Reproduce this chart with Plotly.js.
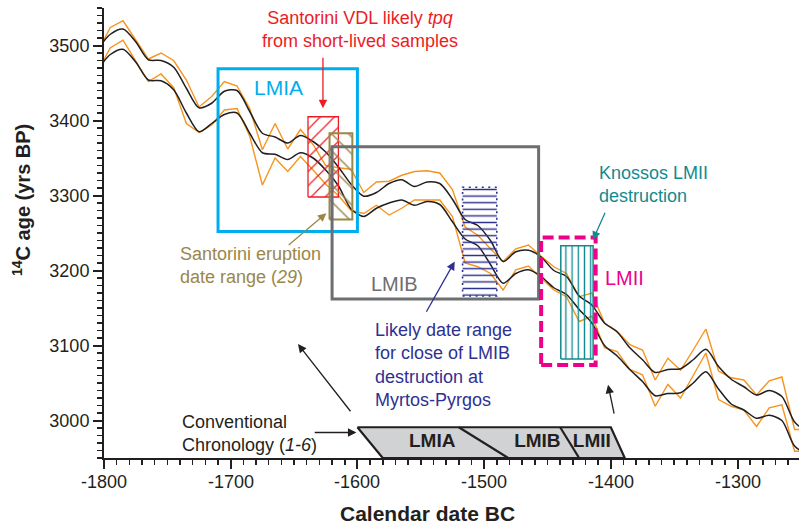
<!DOCTYPE html>
<html><head><meta charset="utf-8">
<script src="https://cdn.plot.ly/plotly-3.0.1.min.js"></script>
<style>html,body{margin:0;padding:0;background:#fff}#chart{width:799px;height:526px}</style>
</head><body><div id="chart"></div>
<script>
// ---- data (calendar year BC as negative, 14C age BP) ----
const years = [-1805,-1795,-1785,-1775,-1765,-1755,-1745,-1735,-1725,-1715,
  -1705,-1695,-1685,-1675,-1665,-1655,-1645,-1635,-1625,-1615,
  -1605,-1595,-1585,-1575,-1565,-1555,-1545,-1535,-1525,-1515,
  -1505,-1495,-1485,-1475,-1465,-1455,-1445,-1435,-1425,-1415,
  -1405,-1395,-1385,-1375,-1365,-1355,-1345,-1335,-1325,-1315,
  -1305,-1295,-1285,-1275,-1265,-1255,-1245];
const orangeUpper = [3492,3524,3533,3508,3482,3490,3480,3454,3418,3432,
  3452,3446,3416,3361,3396,3362,3388,3368,3340,3337,
  3335,3304,3318,3319,3327,3332,3333,3330,3308,3258,
  3247,3229,3212,3229,3234,3219,3205,3196,3165,3170,
  3130,3119,3101,3094,3054,3083,3067,3094,3122,3066,
  3057,3054,3034,3053,3058,2988,2988];
const orangeLower = [3466,3497,3507,3480,3452,3462,3444,3396,3384,3394,
  3414,3416,3379,3314,3350,3332,3352,3334,3315,3300,
  3280,3276,3287,3274,3283,3294,3294,3294,3272,3210,
  3205,3196,3174,3201,3206,3190,3174,3165,3132,3139,
  3097,3092,3068,3061,3019,3048,3030,3060,3090,3028,
  3019,3014,2992,3017,3021,2959,2959];
const blackUpper = [3495,3515,3522,3505,3481,3480,3471,3443,3417,3423,
  3439,3440,3412,3383,3378,3370,3380,3372,3358,3338,
  3315,3299,3304,3316,3321,3312,3318,3316,3295,3268,
  3260,3240,3212,3225,3227,3218,3200,3192,3166,3154,
  3130,3118,3097,3081,3064,3068,3069,3081,3095,3072,
  3055,3045,3034,3040,3032,2998,2985];
const blackLower = [3468,3488,3495,3478,3454,3453,3441,3410,3385,3396,
  3408,3410,3383,3357,3355,3348,3357,3350,3334,3313,
  3282,3272,3283,3290,3294,3287,3292,3288,3265,3242,
  3233,3208,3183,3196,3201,3192,3177,3168,3148,3130,
  3100,3086,3068,3052,3033,3036,3037,3050,3065,3042,
  3022,3014,3003,3007,3000,2966,2955];

// axis ticks
const xTickVals = [-1800, -1700, -1600, -1500, -1400, -1300];
const xTickText = ['-1800', '-1700', '-1600', '-1500', '-1400', '-1300'];
const yTickVals = [3000, 3100, 3200, 3300, 3400, 3500];
const yTickText = ['3000', '3100', '3200', '3300', '3400', '3500'];

// date ranges [start, end] and 14C extents [low, high]
const lmiaBoxX = [-1710, -1600], lmiaBoxY = [3252, 3469];
const lmibBoxX = [-1620, -1457], lmibBoxY = [3162, 3365];
const lmiiBoxX = [-1455, -1412], lmiiBoxY = [3074, 3244];
const vdlRangeX = [-1639, -1615], vdlRangeY = [3298, 3405];
const eruptionRangeX = [-1622, -1604], eruptionRangeY = [3268, 3383];
const myrtosRangeX = [-1517, -1490], myrtosRangeY = [3166, 3311];
const knossosRangeX = [-1439.5, -1414], knossosRangeY = [3082, 3233];
// conventional chronology: phase boundaries (top edge, bottom edge)
const chronoTop = [-1600, -1520, -1440, -1400];
const chronoBottom = [-1580, -1481, -1425, -1389];
const chronoY = [2950, 2991];
const chronoLabels = ['LMIA', 'LMIB', 'LMII'];
const chronoLabelX = [-1541, -1458, -1415];

const FONT = 'Liberation Sans, Arial, Helvetica, sans-serif';
const ORANGE = '#F7941D', RED = '#ED1C24', CYAN = '#00AEEF', GRAY = '#6D6E71',
      OLIVE = '#9A8748', NAVY = '#2E3192', TEAL = '#138A8F', MAGENTA = '#EC008C', INK = '#231F20';

function boxTrace(xr, yr, color, pattern, size, solidity, lw, dash) {
  return {
    x: [xr[0], xr[1], xr[1], xr[0], xr[0]],
    y: [yr[0], yr[0], yr[1], yr[1], yr[0]],
    mode: 'lines', fill: 'toself', fillcolor: 'rgba(0,0,0,0)',
    fillpattern: {shape: pattern, fgcolor: color, bgcolor: 'rgba(0,0,0,0)', size: size, solidity: solidity},
    line: {color: color, width: lw, dash: dash || 'solid'},
    hoverinfo: 'skip', showlegend: false
  };
}

const traces = [
  {x: years, y: orangeUpper, mode: 'lines', line: {color: ORANGE, width: 1.4}, showlegend: false},
  {x: years, y: orangeLower, mode: 'lines', line: {color: ORANGE, width: 1.4}, showlegend: false},
  {x: years, y: blackUpper, mode: 'lines', line: {color: INK, width: 1.5, shape: 'spline', smoothing: 0.8}, showlegend: false},
  {x: years, y: blackLower, mode: 'lines', line: {color: INK, width: 1.5, shape: 'spline', smoothing: 0.8}, showlegend: false},
  boxTrace(vdlRangeX, vdlRangeY, RED, '/', 10, 0.12, 1.3),
  boxTrace(eruptionRangeX, eruptionRangeY, OLIVE, '\\', 12, 0.12, 2),
  boxTrace(myrtosRangeX, myrtosRangeY, NAVY, '-', 6.6, 0.22, 1.6, '2px,4.5px'),
  boxTrace(knossosRangeX, knossosRangeY, TEAL, '|', 6.2, 0.22, 1.5),
  // chronology bar
  {x: [chronoTop[0], chronoTop[3], chronoBottom[3], chronoBottom[0], chronoTop[0]],
   y: [chronoY[1], chronoY[1], chronoY[0], chronoY[0], chronoY[1]],
   mode: 'lines', fill: 'toself', fillcolor: '#D1D2D4', line: {color: INK, width: 2.2},
   hoverinfo: 'skip', showlegend: false},
  {x: [chronoTop[1], chronoBottom[1], null, chronoTop[2], chronoBottom[2]],
   y: [chronoY[1], chronoY[0], null, chronoY[1], chronoY[0]],
   mode: 'lines', line: {color: INK, width: 2.2}, hoverinfo: 'skip', showlegend: false},
  {x: chronoLabelX, y: [2971.5, 2971.5, 2971.5], mode: 'text', text: chronoLabels.map(s => '<b>' + s + '</b>'),
   textfont: {family: FONT, size: 19, color: INK}, hoverinfo: 'skip', showlegend: false}
];

function arrow(x, y, ax, ay, color) {
  return {x: x, y: y, ax: ax, ay: ay, xref: 'x', yref: 'y', axref: 'x', ayref: 'y', text: ' ',
    showarrow: true, arrowhead: 2, arrowsize: 1.3, arrowwidth: 1.3, arrowcolor: color, standoff: 0,
    font: {size: 2}};
}
function label(x, y, text, color, size, xanchor, extra) {
  return Object.assign({x: x, y: y, xref: 'x', yref: 'y', text: text, showarrow: false,
    font: {family: FONT, size: size, color: color}, xanchor: xanchor || 'center', yanchor: 'middle', align: 'left'}, extra || {});
}

const annotations = [
  label(-1598, 3521, 'Santorini VDL likely <i>tpq</i><br>from short-lived samples', RED, 18, 'center', {align: 'center'}),
  arrow(-1627.2, 3416.5, -1627.2, 3487.6, RED),
  label(-1662, 3443.6, 'LMIA', CYAN, 21),
  label(-1570.6, 3182.3, 'LMIB', GRAY, 20),
  label(-1389.4, 3190.3, 'LMII', MAGENTA, 20),
  label(-1410.6, 3315, 'Knossos LMII<br>destruction', TEAL, 18, 'left'),
  arrow(-1414.1, 3240.9, -1403.5, 3281, TEAL),
  label(-1741.6, 3206.3, 'Santorini eruption<br>date range (<i>29</i>)', OLIVE, 18, 'left'),
  arrow(-1624.5, 3276.5, -1655.8, 3231.6, OLIVE),
  label(-1587.9, 3073.6, 'Likely date range<br>for close of LMIB<br>destruction at<br>Myrtos-Pyrgos', NAVY, 18, 'left'),
  arrow(-1523.2, 3212, -1546.9, 3141, NAVY),
  label(-1740.2, 2982.6, 'Conventional<br>Chronology (<i>1-6</i>)', INK, 18, 'left'),
  arrow(-1600.8, 2984, -1635.3, 2984, INK),
  arrow(-1646.9, 3101.9, -1603.9, 3008.9, INK),
  arrow(-1402.2, 3047.6, -1396.9, 3005.3, INK),
  {x: -0.1194, y: 0.5733, xref: 'paper', yref: 'paper', text: '<b><sup>14</sup>C age (yrs BP)</b>', textangle: -90,
   showarrow: false, font: {family: FONT, size: 20, color: INK}, xanchor: 'center', yanchor: 'middle'},
  {x: 0.4655, y: -0.1244, xref: 'paper', yref: 'paper', text: '<b>Calendar date BC</b>',
   showarrow: false, font: {family: FONT, size: 21, color: INK}, xanchor: 'center', yanchor: 'middle'}
];
// x tick labels placed as annotations (plain hyphen minus, closer to the axis)
xTickVals.forEach((v, i) => annotations.push({x: v, y: -0.0544, xref: 'x', yref: 'paper', text: xTickText[i],
  showarrow: false, font: {family: FONT, size: 18, color: INK}, xanchor: 'center', yanchor: 'middle'}));

const shapes = [
  {type: 'rect', xref: 'x', yref: 'y', x0: lmiaBoxX[0], x1: lmiaBoxX[1], y0: lmiaBoxY[0], y1: lmiaBoxY[1],
   line: {color: CYAN, width: 3}, layer: 'above'},
  {type: 'rect', xref: 'x', yref: 'y', x0: lmibBoxX[0], x1: lmibBoxX[1], y0: lmibBoxY[0], y1: lmibBoxY[1],
   line: {color: GRAY, width: 3}, layer: 'above'},
  {type: 'rect', xref: 'x', yref: 'y', x0: lmiiBoxX[0], x1: lmiiBoxX[1], y0: lmiiBoxY[0], y1: lmiiBoxY[1],
   line: {color: MAGENTA, width: 4, dash: '11px,5px'}, layer: 'above'}
];

const axisCommon = {
  showgrid: false, zeroline: false, showline: true, linecolor: INK, linewidth: 2,
  ticks: 'outside', tickcolor: INK, tickwidth: 2, tickfont: {family: FONT, size: 18, color: INK},
  minor: {ticks: 'outside', ticklen: 5, tickwidth: 1.5, tickcolor: INK, dtick: 10, showgrid: false}
};

const layout = {
  width: 799, height: 526, margin: {l: 104, r: 0, t: 8, b: 68},
  paper_bgcolor: '#fff', plot_bgcolor: '#fff', showlegend: false,
  xaxis: Object.assign({}, axisCommon, {range: [-1800, -1251.5], tickmode: 'array', tickvals: xTickVals,
    showticklabels: false, ticklen: 9}),
  yaxis: Object.assign({}, axisCommon, {range: [2950, 3550], tickmode: 'array', tickvals: yTickVals,
    ticktext: yTickText, ticklen: 9}),
  shapes: shapes, annotations: annotations
};

Plotly.newPlot('chart', traces, layout, {staticPlot: true});
</script></body></html>
